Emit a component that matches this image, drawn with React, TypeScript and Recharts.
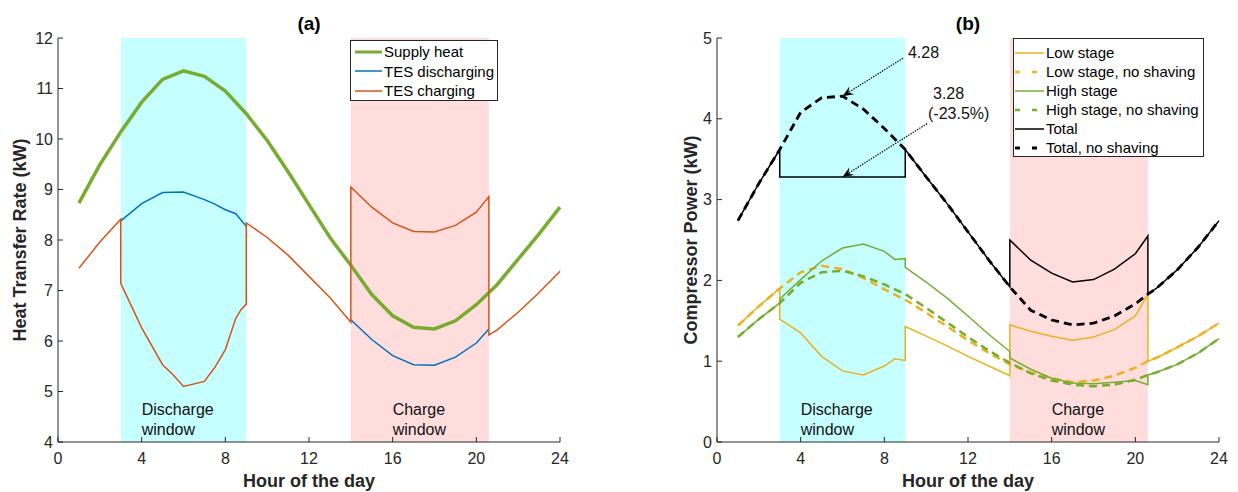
import React from 'react'
import {
  LineChart,
  Line,
  XAxis,
  YAxis,
  ReferenceArea,
  ReferenceLine,
  Legend,
  Customized,
} from 'recharts'

const FONT = '"Liberation Sans", Arial, Helvetica, sans-serif'
const AX = '#262626'

const hourTicks = [0, 4, 8, 12, 16, 20, 24]
const heatTicks = [4, 5, 6, 7, 8, 9, 10, 11, 12]
const powerTicks = [0, 1, 2, 3, 4, 5]

const dischargeWindow = [3, 9]
const chargeWindow = [14, 20.6]

type Row = [number, number | null]

// ---- (a) heat transfer rate, kW
const supplyHeat: Row[] = [
  [1, 8.73], [2, 9.49], [3, 10.14], [4, 10.73], [5, 11.18], [6, 11.35], [7, 11.24], [8, 10.95],
  [9, 10.5], [10, 9.97], [11, 9.35], [12, 8.7], [13, 8.05], [14, 7.5], [15, 6.92], [16, 6.5],
  [17, 6.27], [18, 6.24], [19, 6.4], [20, 6.72], [21, 7.12], [22, 7.62], [23, 8.12], [24, 8.65],
]
const tesDischarging: Row[] = [
  [3, 8.38], [4, 8.72], [5, 8.94], [6, 8.95], [7, 8.8], [7.5, 8.71], [8, 8.6], [8.5, 8.52], [9, 8.27],
  [11.5, null],
  [14, 6.42], [15, 6.03], [16, 5.71], [17, 5.53], [18, 5.52], [19, 5.68], [20, 5.96], [20.6, 6.24],
]
const tesCharging: Row[] = [
  [1, 7.44], [2, 7.96], [3, 8.41], [3, 7.14], [4, 6.26], [5, 5.53], [5.5, 5.33], [6, 5.1], [7, 5.2],
  [7.5, 5.48], [8, 5.83], [8.5, 6.45], [8.75, 6.62], [9, 6.73], [9, 8.34], [10, 8.05], [11, 7.7],
  [12, 7.28], [13, 6.86], [14, 6.37], [14, 9.05], [15, 8.65], [16, 8.34], [17, 8.17], [18, 8.16],
  [19, 8.29], [20, 8.55], [20.6, 8.86], [20.6, 6.12], [21, 6.22], [22, 6.57], [23, 6.96], [24, 7.38],
]

// ---- (b) compressor power, kW
const lowStage: Row[] = [
  [1, 1.44], [2, 1.68], [3, 1.9], [3, 1.52], [4, 1.35], [5, 1.06], [6, 0.88], [7, 0.83], [8, 0.94],
  [8.5, 1.03], [9, 1.01], [9, 1.43], [10, 1.31], [11, 1.19], [12, 1.06], [13, 0.94], [14, 0.82],
  [14, 1.45], [15, 1.37], [16, 1.31], [17, 1.26], [18, 1.3], [19, 1.39], [20, 1.56], [20.6, 1.83],
  [20.6, 1.0], [21, 1.04], [22, 1.17], [23, 1.31], [24, 1.47],
]
const lowStageNoShaving: Row[] = [
  [1, 1.44], [2, 1.68], [3, 1.9], [4, 2.1], [5, 2.18], [6, 2.14], [7, 2.03], [8, 1.89], [9, 1.76],
  [10, 1.6], [11, 1.43], [12, 1.26], [13, 1.1], [14, 0.96], [15, 0.86], [16, 0.79], [17, 0.74],
  [18, 0.76], [19, 0.82], [20, 0.92], [20.6, 1.0], [21, 1.04], [22, 1.17], [23, 1.31], [24, 1.47],
]
const highStage: Row[] = [
  [1, 1.3], [2, 1.52], [3, 1.72], [3, 1.77], [4, 2.01], [5, 2.24], [6, 2.4], [7, 2.45], [8, 2.36],
  [8.5, 2.26], [9, 2.27], [9, 2.16], [10, 1.98], [11, 1.78], [12, 1.56], [13, 1.33], [14, 1.12],
  [14, 1.04], [15, 0.9], [16, 0.79], [17, 0.73], [18, 0.72], [19, 0.74], [20, 0.76], [20.6, 0.71],
  [20.6, 0.83], [21, 0.86], [22, 0.96], [23, 1.1], [24, 1.28],
]
const highStageNoShaving: Row[] = [
  [1, 1.3], [2, 1.52], [3, 1.72], [4, 1.97], [5, 2.1], [6, 2.12], [7, 2.05], [8, 1.95], [9, 1.83],
  [10, 1.66], [11, 1.48], [12, 1.3], [13, 1.13], [14, 0.98], [15, 0.85], [16, 0.76], [17, 0.71],
  [18, 0.69], [19, 0.71], [20, 0.77], [20.6, 0.83], [21, 0.86], [22, 0.96], [23, 1.1], [24, 1.28],
]
const total: Row[] = [
  [1, 2.74], [2, 3.2], [3, 3.62], [3, 3.28], [9, 3.28], [9, 3.62], [10, 3.28], [11, 2.95], [12, 2.6],
  [13, 2.25], [14, 1.92], [14, 2.5], [15, 2.25], [16, 2.09], [17, 1.98], [18, 2.01], [19, 2.14],
  [20, 2.33], [20.6, 2.55], [20.6, 1.83], [21, 1.9], [22, 2.13], [23, 2.41], [24, 2.74],
]
const totalNoShaving: Row[] = [
  [1, 2.74], [2, 3.2], [3, 3.62], [4, 4.08], [5, 4.26], [6, 4.28], [7, 4.12], [8, 3.88], [9, 3.62],
  [10, 3.28], [11, 2.95], [12, 2.6], [13, 2.25], [14, 1.92], [15, 1.63], [16, 1.51], [17, 1.45],
  [18, 1.47], [19, 1.56], [20, 1.71], [20.6, 1.83], [21, 1.9], [22, 2.13], [23, 2.41], [24, 2.74],
]

const peakNoShaving = '4.28'
const peakShaved = '3.28'
const peakCut = '(-23.5%)'

const pts = (rows: Row[]) => rows.map(([hour, kw]) => ({ hour, kw }))

type Series = { name: string; rows: Row[]; color: string; width: number; dash?: string; legendDash?: string }

const seriesA: Series[] = [
  { name: 'Supply heat', rows: supplyHeat, color: '#77AC30', width: 3.5 },
  { name: 'TES discharging', rows: tesDischarging, color: '#0072BD', width: 1.5 },
  { name: 'TES charging', rows: tesCharging, color: '#D95319', width: 1.5 },
]

const seriesB: Series[] = [
  { name: 'Low stage', rows: lowStage, color: '#EDB120', width: 1.5 },
  { name: 'Low stage, no shaving', rows: lowStageNoShaving, color: '#EDB120', width: 2.5, dash: '8 5', legendDash: '5 12' },
  { name: 'High stage', rows: highStage, color: '#77AC30', width: 1.5 },
  { name: 'High stage, no shaving', rows: highStageNoShaving, color: '#77AC30', width: 2.5, dash: '8 5', legendDash: '5 12' },
  { name: 'Total', rows: total, color: '#000000', width: 1.5 },
  { name: 'Total, no shaving', rows: totalNoShaving, color: '#000000', width: 2.8, dash: '8 5', legendDash: '5 12' },
]

function LegendBox({ items, lineW, rowH, padTop, padLeft }: { items: Series[]; lineW: number; rowH: number; padTop: number; padLeft: number }) {
  return (
    <div
      style={{
        border: `1px solid ${AX}`,
        background: '#fff',
        boxSizing: 'border-box',
        padding: `${padTop}px 6px 0 ${padLeft}px`,
        fontFamily: FONT,
        fontSize: 15,
        color: '#000',
        width: '100%',
        height: '100%',
      }}
    >
      {items.map((s) => (
        <div key={s.name} style={{ display: 'flex', alignItems: 'center', height: rowH, whiteSpace: 'nowrap' }}>
          <svg width={lineW} height={6} style={{ marginRight: 2, flex: 'none' }}>
            <line x1={0} y1={3} x2={lineW} y2={3} stroke={s.color} strokeWidth={Math.min(s.width, 3)} strokeDasharray={s.legendDash} />
          </svg>
          <span>{s.name}</span>
        </div>
      ))}
    </div>
  )
}

const windowLabel = (from: number, to: number, at: number, lines: string[]) => (p: any) => {
  const vb = p.viewBox
  const tx = vb.x + ((at - from) / (to - from)) * vb.width
  const ty = vb.y + vb.height - 27
  return (
    <text x={tx} y={ty} fontSize={16} fill="#111" fontFamily={FONT}>
      <tspan x={tx}>{lines[0]}</tspan>
      <tspan x={tx} dy={19.5}>{lines[1]}</tspan>
    </text>
  )
}

const yAxisLabel = (text: string, cx: number) => (p: any) => {
  const vb = p.viewBox
  const cy = vb.y + vb.height / 2
  return (
    <text
      x={cx}
      y={cy}
      transform={`rotate(-90 ${cx} ${cy})`}
      textAnchor="middle"
      dominantBaseline="central"
      fontSize={18}
      fontWeight="bold"
      fill={AX}
      fontFamily={FONT}
    >
      {text}
    </text>
  )
}

const arrow = (texts: { text: string; dx: number; dy: number }[]) => (p: any) => {
  const { x1, y1, x2, y2 } = p
  const len = Math.hypot(x2 - x1, y2 - y1) || 1
  const ux = (x2 - x1) / len
  const uy = (y2 - y1) / len
  const nx = -uy
  const ny = ux
  const L = 11
  const W = 4.5
  const N = 7
  const head = [
    [x2, y2],
    [x2 - L * ux + W * nx, y2 - L * uy + W * ny],
    [x2 - N * ux, y2 - N * uy],
    [x2 - L * ux - W * nx, y2 - L * uy - W * ny],
  ]
    .map((q) => q.join(','))
    .join(' ')
  return (
    <g>
      <line x1={x1} y1={y1} x2={x2 - 5 * ux} y2={y2 - 5 * uy} stroke="#000" strokeWidth={1.3} strokeDasharray="1.3 1.3" />
      <polygon points={head} fill="#000" />
      {texts.map((t) => (
        <text key={t.text} x={x1 + t.dx} y={y1 + t.dy} fontSize={16} fill="#111" fontFamily={FONT}>
          {t.text}
        </text>
      ))}
    </g>
  )
}

const title = (text: string, x: number) => () => (
  <text x={x} y={30} textAnchor="middle" fontSize={19} fontWeight="bold" fill="#000" fontFamily={FONT}>
    {text}
  </text>
)

const tickStyle = { fill: AX, fontSize: 16, fontFamily: FONT }
const axisLabelStyle = { fill: AX, fontSize: 18, fontWeight: 'bold', fontFamily: FONT }

function Panel({
  series,
  yTicks,
  yWidth,
  yLabel,
  yLabelX,
  width,
  right,
  titleText,
  legendPos,
  legendProps,
  children,
}: any) {
  return (
    <LineChart width={width} height={492} margin={{ top: 38, right, bottom: 0, left: 0 }} style={{ fontFamily: FONT }}>
      <ReferenceArea
        x1={dischargeWindow[0]}
        x2={dischargeWindow[1]}
        fill="#C6FFFF"
        fillOpacity={1}
        stroke="none"
        label={windowLabel(dischargeWindow[0], dischargeWindow[1], 4, ['Discharge', 'window'])}
      />
      <ReferenceArea
        x1={chargeWindow[0]}
        x2={chargeWindow[1]}
        fill="#FFDDDD"
        fillOpacity={1}
        stroke="none"
        label={windowLabel(chargeWindow[0], chargeWindow[1], 16, ['Charge', 'window'])}
      />
      <XAxis
        dataKey="hour"
        type="number"
        domain={[0, 24]}
        ticks={hourTicks}
        interval={0}
        height={50}
        stroke={AX}
        tickSize={-5}
        tickMargin={16}
        tick={tickStyle}
        label={{ value: 'Hour of the day', position: 'insideBottom', offset: 5, style: axisLabelStyle }}
      />
      <YAxis
        type="number"
        domain={[yTicks[0], yTicks[yTicks.length - 1]]}
        ticks={yTicks}
        interval={0}
        width={yWidth}
        stroke={AX}
        tickSize={-5}
        tickMargin={10}
        tick={tickStyle}
        label={yAxisLabel(yLabel, yLabelX)}
      />
      {series.map((s: Series) => (
        <Line
          key={s.name}
          name={s.name}
          data={pts(s.rows)}
          dataKey="kw"
          type="linear"
          stroke={s.color}
          strokeWidth={s.width}
          strokeDasharray={s.dash}
          dot={false}
          activeDot={false}
          connectNulls={false}
          isAnimationActive={false}
        />
      ))}
      {children}
      <Legend
        layout="vertical"
        align="center"
        verticalAlign="middle"
        wrapperStyle={legendPos}
        content={() => <LegendBox items={series} {...legendProps} />}
      />
      <Customized component={title(titleText, yWidth + (width - yWidth - right) / 2)} />
    </LineChart>
  )
}

export default function App() {
  return (
    <div style={{ position: 'absolute', left: 0, top: 0, width: 1238, height: 492, background: '#fff' }}>
      <div style={{ position: 'absolute', left: 0, top: 0 }}>
        <Panel
          series={seriesA}
          yTicks={heatTicks}
          yWidth={58}
          yLabel="Heat Transfer Rate (kW)"
          yLabelX={20}
          width={620}
          right={60}
          titleText="(a)"
          legendPos={{ left: 350, top: 40, width: 148, height: 61 }}
          legendProps={{ lineW: 27, rowH: 19.5, padTop: 1, padLeft: 4 }}
        />
      </div>
      <div style={{ position: 'absolute', left: 620, top: 0 }}>
        <Panel
          series={seriesB}
          yTicks={powerTicks}
          yWidth={97}
          yLabel="Compressor Power (kW)"
          yLabelX={71}
          width={618}
          right={19}
          titleText="(b)"
          legendPos={{ left: 393, top: 38, width: 191, height: 119 }}
          legendProps={{ lineW: 29, rowH: 19, padTop: 4, padLeft: 1 }}
        >
          <ReferenceLine
            segment={[{ x: 8.89, y: 4.75 }, { x: 6, y: 4.28 }]}
            shape={arrow([{ text: peakNoShaving, dx: 5, dy: 0 }])}
          />
          <ReferenceLine
            segment={[{ x: 10.04, y: 3.94 }, { x: 6, y: 3.28 }]}
            shape={arrow([
              { text: peakShaved, dx: 6, dy: -25 },
              { text: peakCut, dx: 1, dy: -5 },
            ])}
          />
        </Panel>
      </div>
    </div>
  )
}
